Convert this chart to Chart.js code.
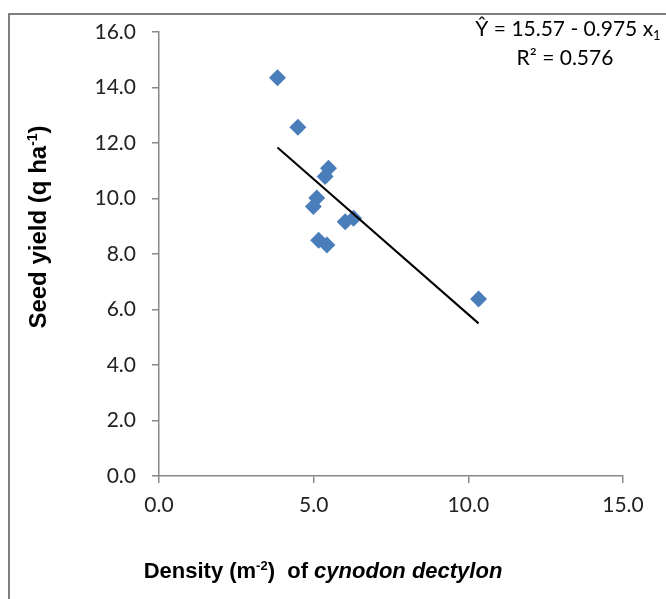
<!DOCTYPE html>
<html>
<head>
<meta charset="utf-8">
<script src="https://cdn.jsdelivr.net/npm/chart.js@4.4.0/dist/chart.umd.min.js"></script>
<style>
  html, body { margin: 0; padding: 0; background: #fff; }
  #wrap { position: relative; width: 666px; height: 599px; }
</style>
</head>
<body>
<div id="wrap"><canvas id="seedChart" width="666" height="599"></canvas></div>
<script>
// density of cynodon dectylon (m-2) vs seed yield (q/ha)
var densityVals = [3.83, 4.49, 5.48, 5.37, 5.10, 4.99, 6.02, 6.29, 5.16, 5.43, 10.33];
var yieldVals = [14.35, 12.57, 11.09, 10.79, 10.02, 9.71, 9.16, 9.29, 8.50, 8.32, 6.38];

// fitted line, end points
var trendX = [3.83, 10.33];
var trendY = [11.84, 5.50];

var xTicks = [0, 5, 10, 15];
var yTicks = [0, 2, 4, 6, 8, 10, 12, 14, 16];

var tickFont = "Lato";
var titleFont = "'Liberation Sans', Arial";

// draw text made of several pieces (bold / italic / raised)
function drawRich(ctx, parts, x, y, size) {
  var total = 0;
  parts.forEach(function (p) {
    var s = p.sup || p.sub ? Math.round(size * 0.6) : size;
    ctx.font = (p.i ? "italic " : "") + (p.b ? "bold " : "") + s + "px " + (p.f || titleFont);
    p.w = ctx.measureText(p.t).width;
    p.s = s;
    total += p.w;
  });
  var cx = x - total / 2;
  ctx.textAlign = "left";
  ctx.textBaseline = "alphabetic";
  parts.forEach(function (p) {
    ctx.font = (p.i ? "italic " : "") + (p.b ? "bold " : "") + p.s + "px " + (p.f || titleFont);
    var dy = p.sup ? -size * 0.38 : p.sub ? size * 0.2 : 0;
    ctx.fillText(p.t, cx, y + dy);
    cx += p.w;
  });
}

var framePlugin = {
  id: "frame",
  beforeDraw: function (chart) {
    var ctx = chart.ctx;
    ctx.save();
    ctx.strokeStyle = "#555";
    ctx.lineWidth = 1.5;
    ctx.beginPath();
    ctx.moveTo(9, 599);
    ctx.lineTo(9, 14);
    ctx.lineTo(666, 14);
    ctx.stroke();
    ctx.restore();
  },
  afterDraw: function (chart) {
    var ctx = chart.ctx;
    ctx.save();
    ctx.fillStyle = "#000";

    // x title
    drawRich(ctx, [
      { t: "Density (m", b: 1 },
      { t: "-2", b: 1, sup: 1 },
      { t: ")  of ", b: 1 },
      { t: "cynodon dectylon", b: 1, i: 1 }
    ], 323, 578, 22);

    // y title
    ctx.translate(37, 227);
    ctx.rotate(-Math.PI / 2);
    drawRich(ctx, [
      { t: "Seed yield (q ha", b: 1 },
      { t: "-1", b: 1, sup: 1 },
      { t: ")", b: 1 }
    ], 0, 9, 24);
    ctx.restore();

    // regression text
    ctx.save();
    ctx.fillStyle = "#000";
    drawRich(ctx, [
      { t: "Ŷ = 15.57 - 0.975 x", f: tickFont },
      { t: "1", f: tickFont, sub: 1 }
    ], 568, 36, 21);
    drawRich(ctx, [
      { t: "R² = 0.576", f: tickFont }
    ], 565, 65, 21);
    ctx.restore();
  }
};

var ctx = document.getElementById("seedChart").getContext("2d");

var seedChart = new Chart(ctx, {
  type: "scatter",
  data: {
    datasets: [
      {
        data: densityVals.map(function (d, i) { return { x: d, y: yieldVals[i] }; }),
        pointStyle: "rectRot",
        pointRadius: 8.5,
        pointHoverRadius: 8.5,
        backgroundColor: "#4A7EBB",
        borderWidth: 0,
        order: 2
      },
      {
        type: "line",
        data: trendX.map(function (d, i) { return { x: d, y: trendY[i] }; }),
        borderColor: "#000",
        borderWidth: 2,
        pointRadius: 0,
        fill: false,
        order: 1
      }
    ]
  },
  options: {
    responsive: false,
    animation: false,
    layout: {
      padding: { left: 0, top: 32, right: 43, bottom: 0 }
    },
    plugins: {
      legend: { display: false },
      tooltip: { enabled: false }
    },
    scales: {
      x: {
        type: "linear",
        min: 0,
        max: 15,
        afterBuildTicks: function (scale) {
          scale.ticks = xTicks.map(function (v) { return { value: v }; });
        },
        afterFit: function (scale) {
          scale.height = 123;
        },
        grid: { drawOnChartArea: false, drawTicks: true, tickLength: 7, color: "#888", lineWidth: 1.5 },
        border: { color: "#888", width: 1.5 },
        ticks: {
          padding: 10,
          color: "#222",
          font: { family: tickFont, size: 21 },
          callback: function (v) { return v.toFixed(1); }
        }
      },
      y: {
        min: 0,
        max: 16,
        afterBuildTicks: function (scale) {
          scale.ticks = yTicks.map(function (v) { return { value: v }; });
        },
        afterFit: function (scale) {
          scale.width = 159;
        },
        grid: { drawOnChartArea: false, drawTicks: true, tickLength: 7, color: "#888", lineWidth: 1.5 },
        border: { color: "#888", width: 1.5 },
        ticks: {
          padding: 16,
          color: "#222",
          font: { family: tickFont, size: 21 },
          callback: function (v) { return v.toFixed(1); }
        }
      }
    }
  },
  plugins: [framePlugin]
});
</script>
</body>
</html>
